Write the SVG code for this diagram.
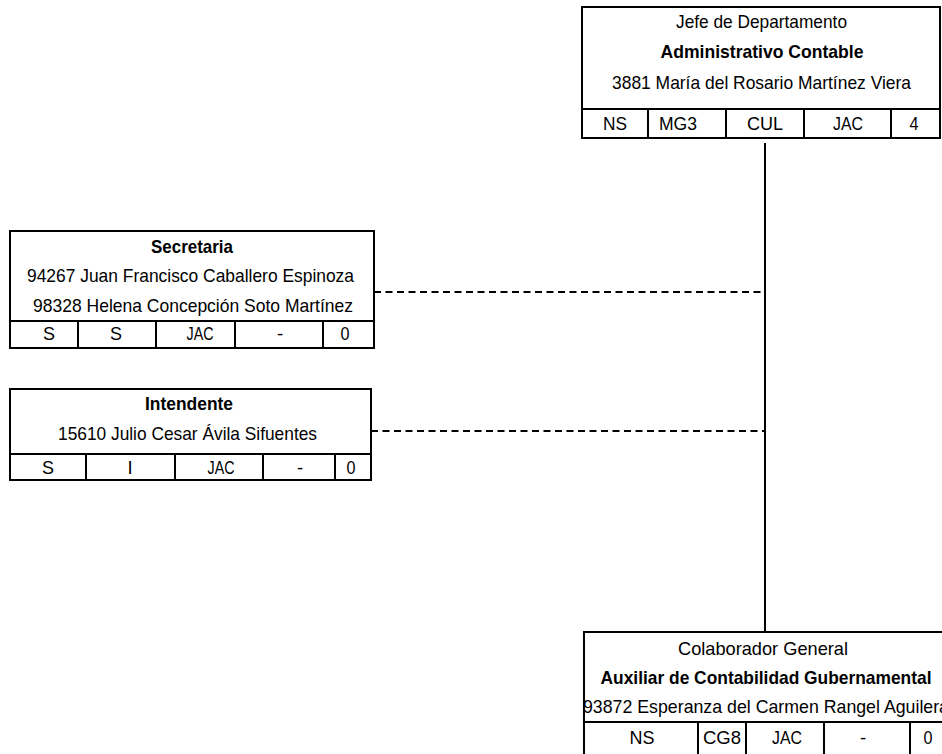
<svg xmlns="http://www.w3.org/2000/svg" width="942" height="754" viewBox="0 0 942 754">
<style>
.box{fill:#fff;stroke:#000;stroke-width:2}
.ln{stroke:#000;stroke-width:2;fill:none}
.dash{stroke:#000;stroke-width:1.8;stroke-dasharray:7 4.5;fill:none}
text{font-family:"Liberation Sans Narrow","Arial Narrow","Liberation Sans",Arial,sans-serif;font-size:18.5px;fill:#000;text-anchor:middle}
.b{font-weight:bold}
</style>
<rect width="942" height="754" fill="#fff"/>
<g id="connectors">
<line class="ln" x1="765" y1="143" x2="765" y2="632"/>
<line class="dash" x1="374" y1="292" x2="766" y2="292"/>
<line class="dash" x1="371" y1="431" x2="766" y2="431"/>
</g>
<g id="jefe">
<rect class="box" x="582" y="7" width="358" height="131"/>
<line class="ln" x1="582" y1="109" x2="940" y2="109"/>
<line class="ln" x1="648" y1="109" x2="648" y2="138"/>
<line class="ln" x1="726" y1="109" x2="726" y2="138"/>
<line class="ln" x1="804" y1="109" x2="804" y2="138"/>
<line class="ln" x1="891" y1="109" x2="891" y2="138"/>
<text x="761.5" y="28" textLength="171" lengthAdjust="spacingAndGlyphs">Jefe de Departamento</text>
<text class="b" x="762" y="58" textLength="203" lengthAdjust="spacingAndGlyphs">Administrativo Contable</text>
<text x="761.5" y="89" textLength="299" lengthAdjust="spacingAndGlyphs">3881 María del Rosario Martínez Viera</text>
<text x="615" y="130" textLength="24" lengthAdjust="spacingAndGlyphs">NS</text>
<text x="678" y="130" textLength="38" lengthAdjust="spacingAndGlyphs">MG3</text>
<text x="765" y="130" textLength="36" lengthAdjust="spacingAndGlyphs">CUL</text>
<text x="848" y="130" textLength="30" lengthAdjust="spacingAndGlyphs">JAC</text>
<text x="914" y="130" textLength="9" lengthAdjust="spacingAndGlyphs">4</text>
</g>
<g id="secretaria">
<rect class="box" x="10" y="231" width="364" height="117"/>
<line class="ln" x1="10" y1="321" x2="374" y2="321"/>
<line class="ln" x1="78" y1="321" x2="78" y2="348"/>
<line class="ln" x1="156" y1="321" x2="156" y2="348"/>
<line class="ln" x1="235" y1="321" x2="235" y2="348"/>
<line class="ln" x1="323" y1="321" x2="323" y2="348"/>
<text class="b" x="192" y="253" textLength="82" lengthAdjust="spacingAndGlyphs">Secretaria</text>
<text x="190.5" y="282" textLength="327" lengthAdjust="spacingAndGlyphs">94267 Juan Francisco Caballero Espinoza</text>
<text x="193" y="312" textLength="320" lengthAdjust="spacingAndGlyphs">98328 Helena Concepción Soto Martínez</text>
<text x="49" y="340" textLength="12" lengthAdjust="spacingAndGlyphs">S</text>
<text x="116" y="340" textLength="12" lengthAdjust="spacingAndGlyphs">S</text>
<text x="200" y="340" textLength="27" lengthAdjust="spacingAndGlyphs">JAC</text>
<text x="280" y="340">-</text>
<text x="345" y="340" textLength="9" lengthAdjust="spacingAndGlyphs">0</text>
</g>
<g id="intendente">
<rect class="box" x="10" y="389" width="361" height="91"/>
<line class="ln" x1="10" y1="454" x2="371" y2="454"/>
<line class="ln" x1="86" y1="454" x2="86" y2="480"/>
<line class="ln" x1="175" y1="454" x2="175" y2="480"/>
<line class="ln" x1="263" y1="454" x2="263" y2="480"/>
<line class="ln" x1="335" y1="454" x2="335" y2="480"/>
<text class="b" x="189" y="410" textLength="88" lengthAdjust="spacingAndGlyphs">Intendente</text>
<text x="187.5" y="440" textLength="259" lengthAdjust="spacingAndGlyphs">15610 Julio Cesar Ávila Sifuentes</text>
<text x="48" y="474" textLength="12" lengthAdjust="spacingAndGlyphs">S</text>
<text x="130" y="474">I</text>
<text x="221" y="474" textLength="27" lengthAdjust="spacingAndGlyphs">JAC</text>
<text x="300" y="474">-</text>
<text x="351" y="474" textLength="9" lengthAdjust="spacingAndGlyphs">0</text>
</g>
<g id="colaborador">
<rect class="box" x="584" y="632" width="364" height="130"/>
<line class="ln" x1="584" y1="722" x2="948" y2="722"/>
<line class="ln" x1="698" y1="722" x2="698" y2="762"/>
<line class="ln" x1="746" y1="722" x2="746" y2="762"/>
<line class="ln" x1="824" y1="722" x2="824" y2="762"/>
<line class="ln" x1="910" y1="722" x2="910" y2="762"/>
<text x="763" y="655" textLength="170" lengthAdjust="spacingAndGlyphs">Colaborador General</text>
<text class="b" x="766" y="684" textLength="331" lengthAdjust="spacingAndGlyphs">Auxiliar de Contabilidad Gubernamental</text>
<text x="766" y="713" textLength="366" lengthAdjust="spacingAndGlyphs">93872 Esperanza del Carmen Rangel Aguilera</text>
<text x="642" y="744" textLength="25" lengthAdjust="spacingAndGlyphs">NS</text>
<text x="722" y="744" textLength="38" lengthAdjust="spacingAndGlyphs">CG8</text>
<text x="787" y="744" textLength="30" lengthAdjust="spacingAndGlyphs">JAC</text>
<text x="863" y="744">-</text>
<text x="928" y="744" textLength="9" lengthAdjust="spacingAndGlyphs">0</text>
</g>
</svg>
